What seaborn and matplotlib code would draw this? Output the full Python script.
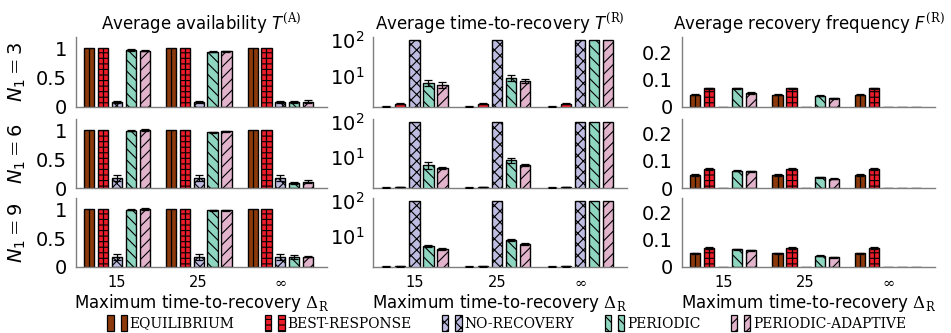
import numpy as np
import pandas as pd
import matplotlib
matplotlib.use("Agg")
import matplotlib.pyplot as plt
import seaborn as sns
from matplotlib.patches import Rectangle
from matplotlib.legend_handler import HandlerTuple
from matplotlib.ticker import FixedLocator, NullFormatter, LogLocator

# ---------------------------------------------------------------------------
# Data
# ---------------------------------------------------------------------------
strategies = ["EQUILIBRIUM", "BEST-RESPONSE", "NO-RECOVERY", "PERIODIC", "PERIODIC-ADAPTIVE"]
max_ttr_labels = ["15", "25", r"$\infty$"]
n1_values = [3, 6, 9]

# average availability T^(A): one list per strategy, values for Δ_R = 15, 25, ∞
avail_n3 = [[1.00, 1.00, 1.00], [1.00, 1.00, 1.00], [0.08, 0.08, 0.08], [0.97, 0.94, 0.08], [0.96, 0.95, 0.09]]
avail_n6 = [[1.00, 1.00, 1.00], [1.00, 1.00, 1.00], [0.17, 0.17, 0.17], [0.99, 0.96, 0.09], [1.00, 0.98, 0.11]]
avail_n9 = [[1.00, 1.00, 1.00], [1.00, 1.00, 1.00], [0.17, 0.17, 0.17], [0.99, 0.98, 0.17], [1.00, 0.98, 0.18]]
avail_err_n3 = [[0, 0, 0], [0, 0, 0], [0.02, 0.02, 0.02], [0.01, 0.01, 0.02], [0.01, 0.01, 0.03]]
avail_err_n6 = [[0, 0, 0], [0, 0, 0], [0.05, 0.05, 0.05], [0.01, 0.01, 0.02], [0.01, 0.01, 0.02]]
avail_err_n9 = [[0, 0, 0], [0, 0, 0], [0.05, 0.05, 0.05], [0.01, 0.01, 0.03], [0.01, 0.01, 0.01]]

# average time-to-recovery T^(R)
ttr_n3 = [[1.30, 1.30, 1.30], [1.55, 1.55, 1.55], [100, 100, 100], [6.2, 8.6, 100], [5.5, 6.9, 100]]
ttr_n6 = [[1.30, 1.30, 1.30], [1.35, 1.35, 1.35], [100, 100, 100], [5.8, 8.0, 100], [4.7, 5.8, 100]]
ttr_n9 = [[1.30, 1.30, 1.30], [1.32, 1.32, 1.32], [100, 100, 100], [5.2, 7.5, 100], [4.2, 5.8, 100]]
ttr_err_n3 = [[0.03, 0.03, 0.03], [0.05, 0.05, 0.05], [0, 0, 0], [1.3, 1.5, 0], [1.0, 1.0, 0]]
ttr_err_n6 = [[0.03, 0.03, 0.03], [0.03, 0.03, 0.03], [0, 0, 0], [1.2, 1.5, 0], [0.3, 0.5, 0]]
ttr_err_n9 = [[0.02, 0.02, 0.02], [0.02, 0.02, 0.02], [0, 0, 0], [0.3, 0.4, 0], [0.2, 0.3, 0]]

# average recovery frequency F^(R)
freq_n3 = [[0.045, 0.045, 0.045], [0.068, 0.068, 0.068], [0, 0, 0], [0.068, 0.041, 0], [0.051, 0.032, 0]]
freq_n6 = [[0.049, 0.049, 0.049], [0.070, 0.070, 0.070], [0, 0, 0], [0.064, 0.040, 0], [0.062, 0.034, 0]]
freq_n9 = [[0.050, 0.050, 0.050], [0.070, 0.070, 0.070], [0, 0, 0], [0.066, 0.041, 0], [0.062, 0.036, 0]]
freq_err_n3 = [[0.002, 0.002, 0.002], [0.003, 0.003, 0.003], [0, 0, 0], [0.002, 0.002, 0], [0.002, 0.002, 0]]
freq_err_n6 = [[0.003, 0.003, 0.003], [0.004, 0.004, 0.004], [0, 0, 0], [0.002, 0.002, 0], [0.002, 0.002, 0]]
freq_err_n9 = [[0.003, 0.003, 0.003], [0.004, 0.004, 0.004], [0, 0, 0], [0.002, 0.002, 0], [0.002, 0.002, 0]]

# ---------------------------------------------------------------------------
# Style
# ---------------------------------------------------------------------------
sns.set_theme(style="white")
plt.rcParams["font.family"] = ["DejaVu Sans"]
plt.rcParams["mathtext.fontset"] = "custom"
plt.rcParams["mathtext.rm"] = "DejaVu Serif"
plt.rcParams["mathtext.it"] = "DejaVu Sans:italic"
plt.rcParams["mathtext.sf"] = "DejaVu Sans"
plt.rcParams["hatch.linewidth"] = 0.8
plt.rcParams["hatch.color"] = "black"
plt.rcParams["text.color"] = "black"
plt.rcParams["axes.labelcolor"] = "black"
plt.rcParams["xtick.labelcolor"] = "black"
plt.rcParams["ytick.labelcolor"] = "black"

colors = ["#8C3A0C", "#EC1C2A", "#BEBCE0", "#8ED6C0", "#E2B4CC"]
hatches = ["", "---", "xxx", "\\\\\\", "///"]
axis_grey = "#7f7f7f"

metrics = [
    dict(title=r"Average availability $T^{(\mathrm{A})}$",
         vals=[avail_n3, avail_n6, avail_n9], errs=[avail_err_n3, avail_err_n6, avail_err_n9],
         log=False, ylim=(0, 1.19), yticks=[0, 0.5, 1], yticklabels=["0", "0.5", "1"]),
    dict(title=r"Average time-to-recovery $T^{(\mathrm{R})}$",
         vals=[ttr_n3, ttr_n6, ttr_n9], errs=[ttr_err_n3, ttr_err_n6, ttr_err_n9],
         log=True, ylim=(1.27, 122), yticks=[10, 100],
         yticklabels=[r"$\mathsf{10}^{\mathsf{1}}$", r"$\mathsf{10}^{\mathsf{2}}$"]),
    dict(title=r"Average recovery frequency $F^{(\mathrm{R})}$",
         vals=[freq_n3, freq_n6, freq_n9], errs=[freq_err_n3, freq_err_n6, freq_err_n9],
         log=False, ylim=(0, 0.255), yticks=[0, 0.1, 0.2], yticklabels=["0", "0.1", "0.2"]),
]

W, H = 951, 333
fig = plt.figure(figsize=(W / 100, H / 100), dpi=100)

col_px = [(76, 327), (373, 627), (682, 935)]
row_px = [(37, 107), (119, 188), (198, 267)]


def frame(lo_hi_x, lo_hi_y):
    x0, x1 = lo_hi_x
    y0, y1 = lo_hi_y
    return [x0 / W, (H - y1) / H, (x1 - x0) / W, (y1 - y0) / H]


for c, m in enumerate(metrics):
    for r, n1 in enumerate(n1_values):
        ax = fig.add_axes(frame(col_px[c], row_px[r]))
        vals = m["vals"][r]
        errs = m["errs"][r]
        df = pd.DataFrame({
            "ttr": [lab for s in range(len(strategies)) for lab in max_ttr_labels],
            "strategy": [strategies[s] for s in range(len(strategies)) for _ in max_ttr_labels],
            "value": [v for row in vals for v in row],
        })
        sns.barplot(data=df, x="ttr", y="value", hue="strategy", order=max_ttr_labels,
                    hue_order=strategies, palette=colors, width=0.85, gap=0.27,
                    errorbar=None, saturation=1, legend=False, ax=ax,
                    edgecolor="black", linewidth=1.0)
        if m["log"]:
            ax.set_yscale("log")
        ax.set_ylim(*m["ylim"])
        ax.set_xlim(-0.5, 2.57)

        bar_containers = list(ax.containers)
        for s, cont in enumerate(bar_containers):
            for k, bar in enumerate(cont.patches):
                bar.set_hatch(hatches[s])
                cx = bar.get_x() + bar.get_width() / 2
                top = bar.get_height()
                # centre rule on the first two strategies
                if s in (0, 1) and not m["log"]:
                    ax.plot([cx, cx], [0, top], color="black", lw=0.9, zorder=bar.get_zorder() + 0.1)
                e = errs[s][k]
                if e > 0:
                    ax.errorbar(cx, top, yerr=e, fmt="none", ecolor="black",
                                elinewidth=0.9, capsize=3.2, capthick=0.9, zorder=5)

        # axes look
        sns.despine(ax=ax, top=True, right=True)
        for side in ("left", "bottom"):
            ax.spines[side].set_color(axis_grey)
            ax.spines[side].set_linewidth(1.0)
        ax.set_xlabel("")
        ax.set_ylabel("")
        ax.yaxis.set_major_locator(FixedLocator(m["yticks"]))
        ax.set_yticklabels(m["yticklabels"], fontsize=14)
        if m["log"]:
            ax.yaxis.set_minor_locator(LogLocator(base=10, subs=np.arange(2, 10)))
            ax.yaxis.set_minor_formatter(NullFormatter())
            ax.tick_params(axis="y", which="minor", direction="inout", length=5,
                           width=0.6, color=axis_grey)
        else:
            ax.yaxis.set_minor_locator(FixedLocator([m["ylim"][1]]))
            ax.tick_params(axis="y", which="minor", direction="inout", length=7,
                           width=0.8, color=axis_grey)
        ax.tick_params(axis="y", which="major", direction="inout", length=7,
                       width=0.8, color=axis_grey, pad=3)
        ax.xaxis.set_minor_locator(FixedLocator([0.5, 1.5, 2.5]))
        ax.tick_params(axis="x", which="major", length=0, pad=6, labelsize=10.5)
        ax.tick_params(axis="x", which="minor", direction="inout", length=7,
                       width=0.8, color=axis_grey)
        if r < 2:
            ax.set_xticklabels([])
        else:
            ax.set_xlabel(r"Maximum time-to-recovery $\Delta_{\mathrm{R}}$", fontsize=12, labelpad=1)
        if r == 0:
            ax.set_title(m["title"], fontsize=12, pad=6)
        ax.set_facecolor("white")

        if c == 0:
            yc = (row_px[r][0] + row_px[r][1]) / 2
            fig.text(17 / W, (H - yc) / H, r"$N_{\mathsf{1}} = \mathsf{%d}$" % n1,
                     rotation=90, ha="center", va="center", fontsize=14)

# legend: two small bars per strategy
handles = []
for s in range(len(strategies)):
    pair = tuple(Rectangle((0, 0), 1, 1, facecolor=colors[s], edgecolor="black",
                           linewidth=0.9, hatch=hatches[s]) for _ in range(2))
    handles.append(pair)
fig.legend(handles, strategies, handler_map={tuple: HandlerTuple(ndivide=None, pad=0.5)},
           loc="center", bbox_to_anchor=(0.533, 1 - 323 / H), ncol=5, frameon=False,
           handlelength=1.4, handleheight=1.4, handletextpad=0.2, columnspacing=2.2,
           prop={"family": "DejaVu Serif", "size": 10})

fig.savefig("out.png", dpi=100, facecolor="white")
